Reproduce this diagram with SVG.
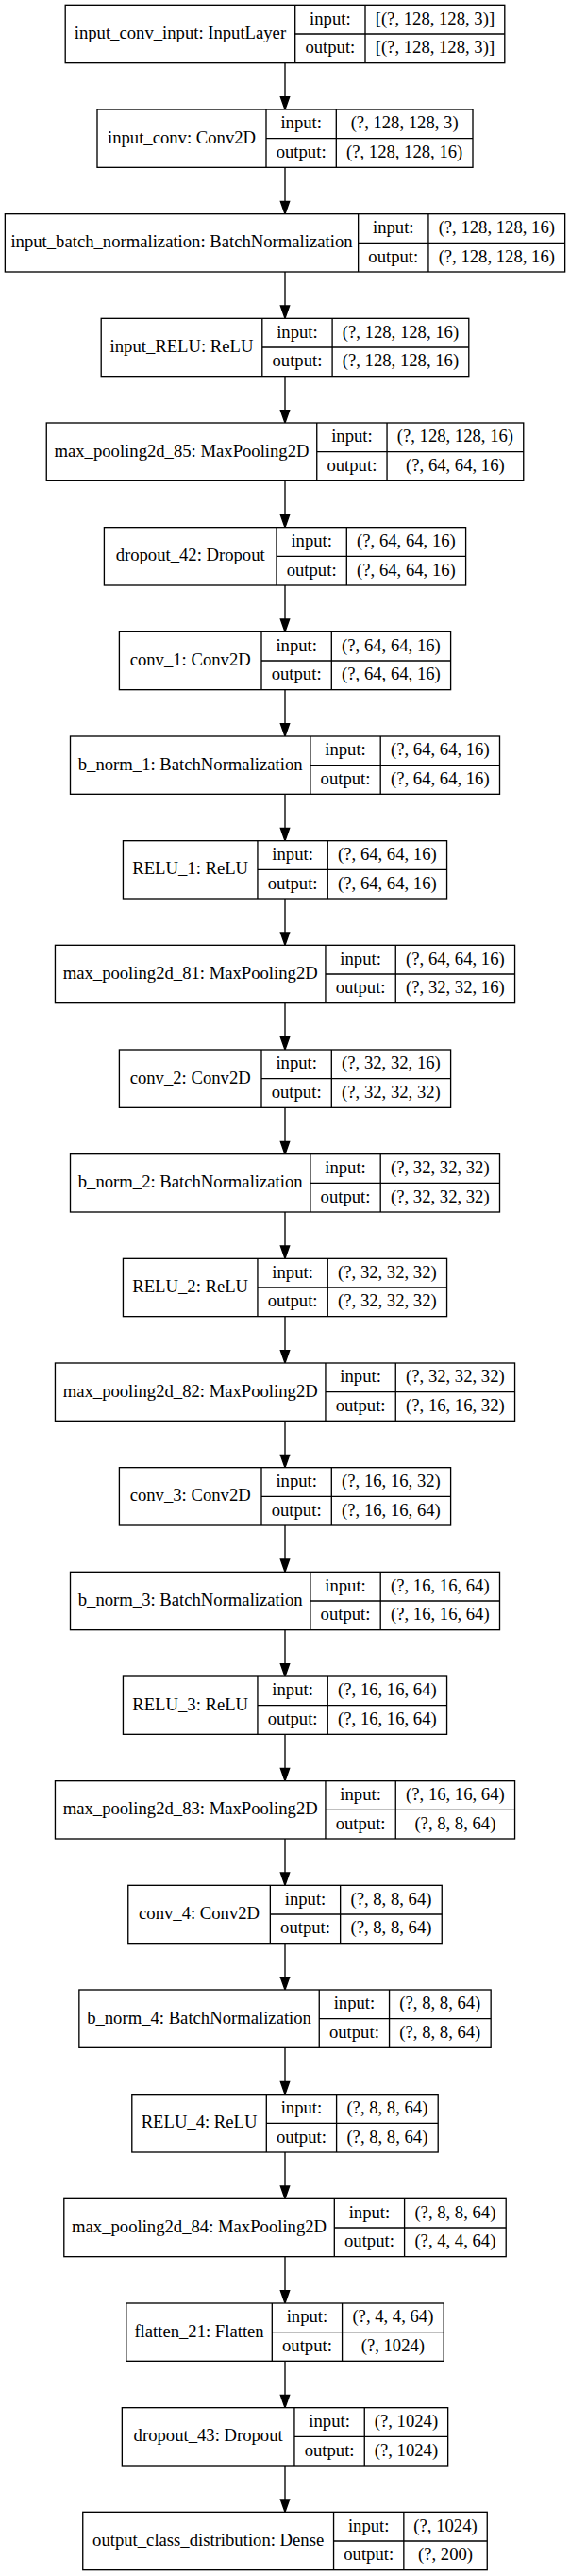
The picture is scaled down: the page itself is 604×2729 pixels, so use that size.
<svg xmlns="http://www.w3.org/2000/svg" xmlns:xlink="http://www.w3.org/1999/xlink" width="604" height="2729" viewBox="0 0 604 2729">
<style>
.t{font-family:"Liberation Serif","Times New Roman",serif;font-size:18.67px;text-anchor:middle;fill:#000}
.b{fill:#fff;stroke:#000;stroke-width:1.33}
.l{fill:none;stroke:#000;stroke-width:1.33}
.e{fill:none;stroke:#000;stroke-width:1.33}
.h{fill:#000;stroke:#000;stroke-width:1.33}
</style>
<defs>
<path id="ah" class="h" d="M0,0L-4.67,-13.33L4.67,-13.33Z"/>
</defs>
<rect x="0" y="0" width="604" height="2729" fill="#fff"/>
<g id="edges">
<path class="e" d="M302,66.67V102.67M302,177.33V213.33M302,288V324M302,398.67V434.67M302,509.33V545.33M302,620V656M302,730.67V766.67M302,841.33V877.33M302,952V988M302,1062.67V1098.67M302,1173.33V1209.33M302,1284V1320M302,1394.67V1430.67M302,1505.33V1541.33M302,1616V1652M302,1726.67V1762.67M302,1837.33V1873.33M302,1948V1984M302,2058.67V2094.67M302,2169.33V2205.33M302,2280V2316M302,2390.67V2426.67M302,2501.33V2537.33M302,2612V2648"/>
<use xlink:href="#ah" x="302" y="116"/>
<use xlink:href="#ah" x="302" y="226.67"/>
<use xlink:href="#ah" x="302" y="337.33"/>
<use xlink:href="#ah" x="302" y="448"/>
<use xlink:href="#ah" x="302" y="558.67"/>
<use xlink:href="#ah" x="302" y="669.33"/>
<use xlink:href="#ah" x="302" y="780"/>
<use xlink:href="#ah" x="302" y="890.67"/>
<use xlink:href="#ah" x="302" y="1001.33"/>
<use xlink:href="#ah" x="302" y="1112"/>
<use xlink:href="#ah" x="302" y="1222.67"/>
<use xlink:href="#ah" x="302" y="1333.33"/>
<use xlink:href="#ah" x="302" y="1444"/>
<use xlink:href="#ah" x="302" y="1554.67"/>
<use xlink:href="#ah" x="302" y="1665.33"/>
<use xlink:href="#ah" x="302" y="1776"/>
<use xlink:href="#ah" x="302" y="1886.67"/>
<use xlink:href="#ah" x="302" y="1997.33"/>
<use xlink:href="#ah" x="302" y="2108"/>
<use xlink:href="#ah" x="302" y="2218.67"/>
<use xlink:href="#ah" x="302" y="2329.33"/>
<use xlink:href="#ah" x="302" y="2440"/>
<use xlink:href="#ah" x="302" y="2550.67"/>
<use xlink:href="#ah" x="302" y="2661.33"/>
</g>

<g id="input_conv_input" transform="translate(0,5.33)">
<rect class="b" x="69.2" y="0" width="465.6" height="61.33"/>
<path class="l" d="M312.7,0V61.33M387,0V61.33M312.7,30.67H534.8"/>
<text class="t" x="190.95" y="35.7">input_conv_input: InputLayer</text>
<text class="t" x="349.85" y="20.4">input:</text>
<text class="t" x="349.85" y="51.1">output:</text>
<text class="t" x="460.9" y="20.4">[(?, 128, 128, 3)]</text>
<text class="t" x="460.9" y="51.1">[(?, 128, 128, 3)]</text>
</g>

<g id="input_conv" transform="translate(0,116)">
<rect class="b" x="103" y="0" width="398" height="61.33"/>
<path class="l" d="M282,0V61.33M356.3,0V61.33M282,30.67H501"/>
<text class="t" x="192.5" y="35.7">input_conv: Conv2D</text>
<text class="t" x="319.15" y="20.4">input:</text>
<text class="t" x="319.15" y="51.1">output:</text>
<text class="t" x="428.65" y="20.4">(?, 128, 128, 3)</text>
<text class="t" x="428.65" y="51.1">(?, 128, 128, 16)</text>
</g>

<g id="input_batch_normalization" transform="translate(0,226.67)">
<rect class="b" x="5.35" y="0" width="593.3" height="61.33"/>
<path class="l" d="M379.65,0V61.33M453.95,0V61.33M379.65,30.67H598.65"/>
<text class="t" x="192.5" y="35.7">input_batch_normalization: BatchNormalization</text>
<text class="t" x="416.8" y="20.4">input:</text>
<text class="t" x="416.8" y="51.1">output:</text>
<text class="t" x="526.3" y="20.4">(?, 128, 128, 16)</text>
<text class="t" x="526.3" y="51.1">(?, 128, 128, 16)</text>
</g>

<g id="input_RELU" transform="translate(0,337.33)">
<rect class="b" x="107.2" y="0" width="389.6" height="61.33"/>
<path class="l" d="M277.8,0V61.33M352.1,0V61.33M277.8,30.67H496.8"/>
<text class="t" x="192.5" y="35.7">input_RELU: ReLU</text>
<text class="t" x="314.95" y="20.4">input:</text>
<text class="t" x="314.95" y="51.1">output:</text>
<text class="t" x="424.45" y="20.4">(?, 128, 128, 16)</text>
<text class="t" x="424.45" y="51.1">(?, 128, 128, 16)</text>
</g>

<g id="max_pooling2d_85" transform="translate(0,448)">
<rect class="b" x="49.25" y="0" width="505.5" height="61.33"/>
<path class="l" d="M335.75,0V61.33M410.05,0V61.33M335.75,30.67H554.75"/>
<text class="t" x="192.5" y="35.7">max_pooling2d_85: MaxPooling2D</text>
<text class="t" x="372.9" y="20.4">input:</text>
<text class="t" x="372.9" y="51.1">output:</text>
<text class="t" x="482.4" y="20.4">(?, 128, 128, 16)</text>
<text class="t" x="482.4" y="51.1">(?, 64, 64, 16)</text>
</g>

<g id="dropout_42" transform="translate(0,558.67)">
<rect class="b" x="110.4" y="0" width="383.2" height="61.33"/>
<path class="l" d="M293,0V61.33M367.3,0V61.33M293,30.67H493.6"/>
<text class="t" x="201.7" y="35.7">dropout_42: Dropout</text>
<text class="t" x="330.15" y="20.4">input:</text>
<text class="t" x="330.15" y="51.1">output:</text>
<text class="t" x="430.45" y="20.4">(?, 64, 64, 16)</text>
<text class="t" x="430.45" y="51.1">(?, 64, 64, 16)</text>
</g>

<g id="conv_1" transform="translate(0,669.33)">
<rect class="b" x="126.4" y="0" width="351.2" height="61.33"/>
<path class="l" d="M277,0V61.33M351.3,0V61.33M277,30.67H477.6"/>
<text class="t" x="201.7" y="35.7">conv_1: Conv2D</text>
<text class="t" x="314.15" y="20.4">input:</text>
<text class="t" x="314.15" y="51.1">output:</text>
<text class="t" x="414.45" y="20.4">(?, 64, 64, 16)</text>
<text class="t" x="414.45" y="51.1">(?, 64, 64, 16)</text>
</g>

<g id="b_norm_1" transform="translate(0,780)">
<rect class="b" x="74.5" y="0" width="455" height="61.33"/>
<path class="l" d="M328.9,0V61.33M403.2,0V61.33M328.9,30.67H529.5"/>
<text class="t" x="201.7" y="35.7">b_norm_1: BatchNormalization</text>
<text class="t" x="366.05" y="20.4">input:</text>
<text class="t" x="366.05" y="51.1">output:</text>
<text class="t" x="466.35" y="20.4">(?, 64, 64, 16)</text>
<text class="t" x="466.35" y="51.1">(?, 64, 64, 16)</text>
</g>

<g id="RELU_1" transform="translate(0,890.67)">
<rect class="b" x="130.45" y="0" width="343.1" height="61.33"/>
<path class="l" d="M272.95,0V61.33M347.25,0V61.33M272.95,30.67H473.55"/>
<text class="t" x="201.7" y="35.7">RELU_1: ReLU</text>
<text class="t" x="310.1" y="20.4">input:</text>
<text class="t" x="310.1" y="51.1">output:</text>
<text class="t" x="410.4" y="20.4">(?, 64, 64, 16)</text>
<text class="t" x="410.4" y="51.1">(?, 64, 64, 16)</text>
</g>

<g id="max_pooling2d_81" transform="translate(0,1001.33)">
<rect class="b" x="58.45" y="0" width="487.1" height="61.33"/>
<path class="l" d="M344.95,0V61.33M419.25,0V61.33M344.95,30.67H545.55"/>
<text class="t" x="201.7" y="35.7">max_pooling2d_81: MaxPooling2D</text>
<text class="t" x="382.1" y="20.4">input:</text>
<text class="t" x="382.1" y="51.1">output:</text>
<text class="t" x="482.4" y="20.4">(?, 64, 64, 16)</text>
<text class="t" x="482.4" y="51.1">(?, 32, 32, 16)</text>
</g>

<g id="conv_2" transform="translate(0,1112)">
<rect class="b" x="126.4" y="0" width="351.2" height="61.33"/>
<path class="l" d="M277,0V61.33M351.3,0V61.33M277,30.67H477.6"/>
<text class="t" x="201.7" y="35.7">conv_2: Conv2D</text>
<text class="t" x="314.15" y="20.4">input:</text>
<text class="t" x="314.15" y="51.1">output:</text>
<text class="t" x="414.45" y="20.4">(?, 32, 32, 16)</text>
<text class="t" x="414.45" y="51.1">(?, 32, 32, 32)</text>
</g>

<g id="b_norm_2" transform="translate(0,1222.67)">
<rect class="b" x="74.5" y="0" width="455" height="61.33"/>
<path class="l" d="M328.9,0V61.33M403.2,0V61.33M328.9,30.67H529.5"/>
<text class="t" x="201.7" y="35.7">b_norm_2: BatchNormalization</text>
<text class="t" x="366.05" y="20.4">input:</text>
<text class="t" x="366.05" y="51.1">output:</text>
<text class="t" x="466.35" y="20.4">(?, 32, 32, 32)</text>
<text class="t" x="466.35" y="51.1">(?, 32, 32, 32)</text>
</g>

<g id="RELU_2" transform="translate(0,1333.33)">
<rect class="b" x="130.45" y="0" width="343.1" height="61.33"/>
<path class="l" d="M272.95,0V61.33M347.25,0V61.33M272.95,30.67H473.55"/>
<text class="t" x="201.7" y="35.7">RELU_2: ReLU</text>
<text class="t" x="310.1" y="20.4">input:</text>
<text class="t" x="310.1" y="51.1">output:</text>
<text class="t" x="410.4" y="20.4">(?, 32, 32, 32)</text>
<text class="t" x="410.4" y="51.1">(?, 32, 32, 32)</text>
</g>

<g id="max_pooling2d_82" transform="translate(0,1444)">
<rect class="b" x="58.45" y="0" width="487.1" height="61.33"/>
<path class="l" d="M344.95,0V61.33M419.25,0V61.33M344.95,30.67H545.55"/>
<text class="t" x="201.7" y="35.7">max_pooling2d_82: MaxPooling2D</text>
<text class="t" x="382.1" y="20.4">input:</text>
<text class="t" x="382.1" y="51.1">output:</text>
<text class="t" x="482.4" y="20.4">(?, 32, 32, 32)</text>
<text class="t" x="482.4" y="51.1">(?, 16, 16, 32)</text>
</g>

<g id="conv_3" transform="translate(0,1554.67)">
<rect class="b" x="126.4" y="0" width="351.2" height="61.33"/>
<path class="l" d="M277,0V61.33M351.3,0V61.33M277,30.67H477.6"/>
<text class="t" x="201.7" y="35.7">conv_3: Conv2D</text>
<text class="t" x="314.15" y="20.4">input:</text>
<text class="t" x="314.15" y="51.1">output:</text>
<text class="t" x="414.45" y="20.4">(?, 16, 16, 32)</text>
<text class="t" x="414.45" y="51.1">(?, 16, 16, 64)</text>
</g>

<g id="b_norm_3" transform="translate(0,1665.33)">
<rect class="b" x="74.5" y="0" width="455" height="61.33"/>
<path class="l" d="M328.9,0V61.33M403.2,0V61.33M328.9,30.67H529.5"/>
<text class="t" x="201.7" y="35.7">b_norm_3: BatchNormalization</text>
<text class="t" x="366.05" y="20.4">input:</text>
<text class="t" x="366.05" y="51.1">output:</text>
<text class="t" x="466.35" y="20.4">(?, 16, 16, 64)</text>
<text class="t" x="466.35" y="51.1">(?, 16, 16, 64)</text>
</g>

<g id="RELU_3" transform="translate(0,1776)">
<rect class="b" x="130.45" y="0" width="343.1" height="61.33"/>
<path class="l" d="M272.95,0V61.33M347.25,0V61.33M272.95,30.67H473.55"/>
<text class="t" x="201.7" y="35.7">RELU_3: ReLU</text>
<text class="t" x="310.1" y="20.4">input:</text>
<text class="t" x="310.1" y="51.1">output:</text>
<text class="t" x="410.4" y="20.4">(?, 16, 16, 64)</text>
<text class="t" x="410.4" y="51.1">(?, 16, 16, 64)</text>
</g>

<g id="max_pooling2d_83" transform="translate(0,1886.67)">
<rect class="b" x="58.45" y="0" width="487.1" height="61.33"/>
<path class="l" d="M344.95,0V61.33M419.25,0V61.33M344.95,30.67H545.55"/>
<text class="t" x="201.7" y="35.7">max_pooling2d_83: MaxPooling2D</text>
<text class="t" x="382.1" y="20.4">input:</text>
<text class="t" x="382.1" y="51.1">output:</text>
<text class="t" x="482.4" y="20.4">(?, 16, 16, 64)</text>
<text class="t" x="482.4" y="51.1">(?, 8, 8, 64)</text>
</g>

<g id="conv_4" transform="translate(0,1997.33)">
<rect class="b" x="135.75" y="0" width="332.5" height="61.33"/>
<path class="l" d="M286.35,0V61.33M360.65,0V61.33M286.35,30.67H468.25"/>
<text class="t" x="211.05" y="35.7">conv_4: Conv2D</text>
<text class="t" x="323.5" y="20.4">input:</text>
<text class="t" x="323.5" y="51.1">output:</text>
<text class="t" x="414.45" y="20.4">(?, 8, 8, 64)</text>
<text class="t" x="414.45" y="51.1">(?, 8, 8, 64)</text>
</g>

<g id="b_norm_4" transform="translate(0,2108)">
<rect class="b" x="83.85" y="0" width="436.3" height="61.33"/>
<path class="l" d="M338.25,0V61.33M412.55,0V61.33M338.25,30.67H520.15"/>
<text class="t" x="211.05" y="35.7">b_norm_4: BatchNormalization</text>
<text class="t" x="375.4" y="20.4">input:</text>
<text class="t" x="375.4" y="51.1">output:</text>
<text class="t" x="466.35" y="20.4">(?, 8, 8, 64)</text>
<text class="t" x="466.35" y="51.1">(?, 8, 8, 64)</text>
</g>

<g id="RELU_4" transform="translate(0,2218.67)">
<rect class="b" x="139.8" y="0" width="324.4" height="61.33"/>
<path class="l" d="M282.3,0V61.33M356.6,0V61.33M282.3,30.67H464.2"/>
<text class="t" x="211.05" y="35.7">RELU_4: ReLU</text>
<text class="t" x="319.45" y="20.4">input:</text>
<text class="t" x="319.45" y="51.1">output:</text>
<text class="t" x="410.4" y="20.4">(?, 8, 8, 64)</text>
<text class="t" x="410.4" y="51.1">(?, 8, 8, 64)</text>
</g>

<g id="max_pooling2d_84" transform="translate(0,2329.33)">
<rect class="b" x="67.8" y="0" width="468.4" height="61.33"/>
<path class="l" d="M354.3,0V61.33M428.6,0V61.33M354.3,30.67H536.2"/>
<text class="t" x="211.05" y="35.7">max_pooling2d_84: MaxPooling2D</text>
<text class="t" x="391.45" y="20.4">input:</text>
<text class="t" x="391.45" y="51.1">output:</text>
<text class="t" x="482.4" y="20.4">(?, 8, 8, 64)</text>
<text class="t" x="482.4" y="51.1">(?, 4, 4, 64)</text>
</g>

<g id="flatten_21" transform="translate(0,2440)">
<rect class="b" x="133.8" y="0" width="336.4" height="61.33"/>
<path class="l" d="M288.3,0V61.33M362.6,0V61.33M288.3,30.67H470.2"/>
<text class="t" x="211.05" y="35.7">flatten_21: Flatten</text>
<text class="t" x="325.45" y="20.4">input:</text>
<text class="t" x="325.45" y="51.1">output:</text>
<text class="t" x="416.4" y="20.4">(?, 4, 4, 64)</text>
<text class="t" x="416.4" y="51.1">(?, 1024)</text>
</g>

<g id="dropout_43" transform="translate(0,2550.67)">
<rect class="b" x="129.35" y="0" width="345.3" height="61.33"/>
<path class="l" d="M311.95,0V61.33M386.25,0V61.33M311.95,30.67H474.65"/>
<text class="t" x="220.65" y="35.7">dropout_43: Dropout</text>
<text class="t" x="349.1" y="20.4">input:</text>
<text class="t" x="349.1" y="51.1">output:</text>
<text class="t" x="430.45" y="20.4">(?, 1024)</text>
<text class="t" x="430.45" y="51.1">(?, 1024)</text>
</g>

<g id="output_class_distribution" transform="translate(0,2661.33)">
<rect class="b" x="87.75" y="0" width="428.5" height="61.33"/>
<path class="l" d="M353.55,0V61.33M427.85,0V61.33M353.55,30.67H516.25"/>
<text class="t" x="220.65" y="35.7">output_class_distribution: Dense</text>
<text class="t" x="390.7" y="20.4">input:</text>
<text class="t" x="390.7" y="51.1">output:</text>
<text class="t" x="472.05" y="20.4">(?, 1024)</text>
<text class="t" x="472.05" y="51.1">(?, 200)</text>
</g>
</svg>
